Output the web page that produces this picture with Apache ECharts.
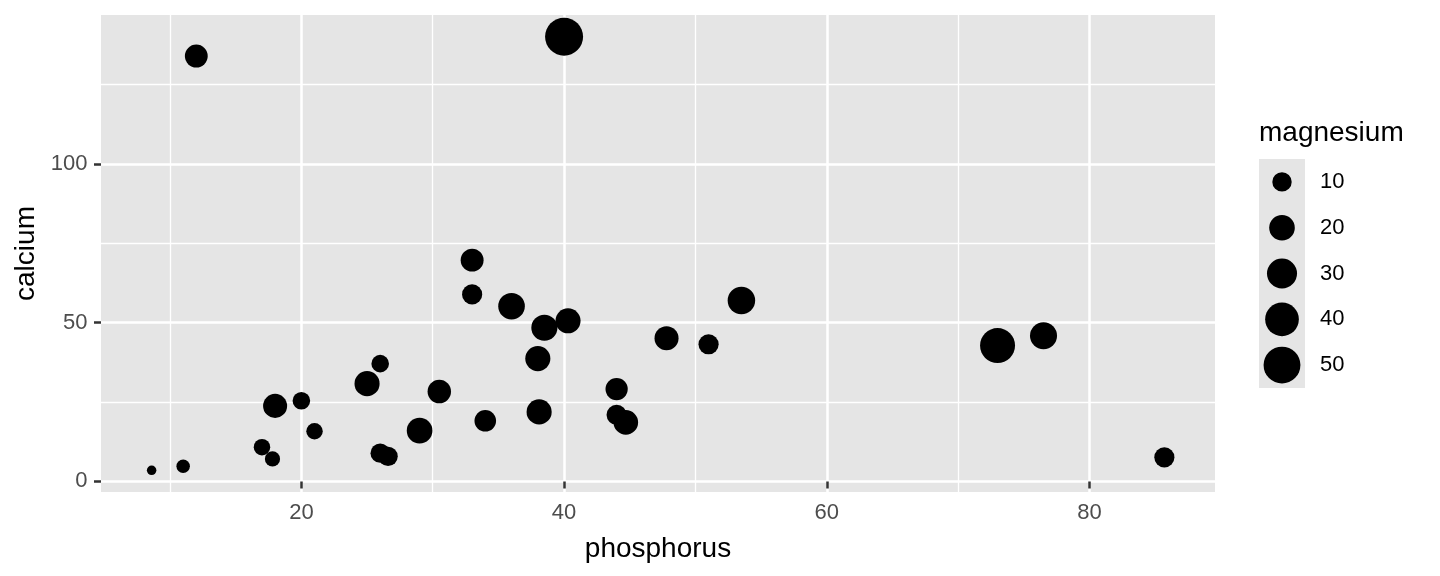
<!DOCTYPE html>
<html>
<head>
<meta charset="utf-8">
<script src="https://cdn.jsdelivr.net/npm/echarts@6/dist/echarts.min.js"></script>
<style>
  html, body { margin: 0; padding: 0; background: #ffffff; }
  #chart { width: 1440px; height: 576px; }
</style>
</head>
<body>
<div id="chart"></div>
<script>
// ---- data ----
const phosphorus = [8.6, 11, 12, 17, 17.8, 18, 20, 21, 25, 26, 26, 26.6, 29, 30.5, 33, 33, 34, 36, 38.5, 38, 38.1, 40, 40.3, 44, 44, 44.7, 47.8, 51, 53.5, 73, 76.5, 85.7];
const calcium    = [3.5, 4.8, 134, 10.8, 7.1, 23.8, 25.4, 15.8, 30.8, 37.1, 8.9, 7.9, 16, 28.3, 69.7, 58.9, 19.1, 55.2, 48.4, 38.7, 21.9, 140.1, 50.6, 29.1, 21, 18.6, 45.1, 43.2, 57, 42.8, 45.9, 7.6];
const magnesium  = [4, 5, 15, 7, 6, 17, 8, 7, 19, 8, 10, 10, 20, 16, 15, 11, 13, 22, 21, 19, 19, 54, 19, 14, 11, 18, 17, 11, 24, 44, 23, 11];

const xMajorTicks = [20, 40, 60, 80];
const xMinorTicks = [10, 30, 50, 70];
const yMajorTicks = [0, 50, 100];
const yMinorTicks = [25, 75, 125];
const legendValues = [10, 20, 30, 40, 50];

// ---- size scale (area-like, as in ggplot scale_size) ----
const magMin = 4, magMax = 54;
function sizeOf(v) {
  const t = Math.max(0, Math.min(1, (v - magMin) / (magMax - magMin)));
  return 9.5 + 28.5 * Math.sqrt(t);
}

// axis limits with 5% expansion as in the reference
function expand(arr) {
  const lo = Math.min.apply(null, arr), hi = Math.max.apply(null, arr);
  const r = hi - lo;
  return [lo - 0.05 * r, hi + 0.05 * r];
}
const xLim = expand(phosphorus);
const yLim = expand(calcium);

const points = phosphorus.map((p, i) => [p, calcium[i], magnesium[i]]);
const legendPoints = legendValues.map(v => [0, String(v), v]);

const FONT = '"Liberation Sans", Arial, Helvetica, sans-serif';
const PANEL = '#E5E5E5';

const chart = echarts.init(document.getElementById('chart'), null, { renderer: 'canvas' });

const hidden = { show: false };

chart.setOption({
  animation: false,
  backgroundColor: '#ffffff',
  textStyle: { fontFamily: FONT },
  title: {
    text: 'magnesium',
    left: 1259,
    top: 119,
    padding: 0,
    textStyle: { fontFamily: FONT, fontSize: 28, fontWeight: 'normal', color: '#000000' }
  },
  grid: [
    { left: 101, right: 225, top: 15, bottom: 84, show: true, backgroundColor: PANEL, borderWidth: 0 },
    { left: 1259, top: 159, width: 46, height: 229, show: true, backgroundColor: PANEL, borderWidth: 0 }
  ],
  xAxis: [
    {
      gridIndex: 0, type: 'value', min: xLim[0], max: xLim[1],
      name: 'phosphorus', nameLocation: 'middle', nameGap: 43,
      nameTextStyle: { fontFamily: FONT, fontSize: 28, color: '#000000' },
      axisLine: hidden,
      axisTick: { show: true, length: 7, customValues: xMajorTicks, lineStyle: { color: '#333333', width: 2.5 } },
      axisLabel: { show: true, customValues: xMajorTicks, margin: 10, fontFamily: FONT, fontSize: 22, color: '#4D4D4D' },
      splitLine: { show: true, lineStyle: { color: '#ffffff', width: 2.5 } }
    },
    {
      gridIndex: 0, type: 'value', min: xLim[0], max: xLim[1], position: 'bottom',
      axisLine: hidden,
      axisTick: { show: false, customValues: xMinorTicks },
      axisLabel: { show: false, customValues: xMinorTicks },
      splitLine: { show: true, lineStyle: { color: '#ffffff', width: 1.3 } }
    },
    {
      gridIndex: 1, type: 'value', min: -1, max: 1, show: false
    }
  ],
  yAxis: [
    {
      gridIndex: 0, type: 'value', min: yLim[0], max: yLim[1],
      name: 'calcium', nameLocation: 'middle', nameGap: 61, nameRotate: 90,
      nameTextStyle: { fontFamily: FONT, fontSize: 28, color: '#000000' },
      axisLine: hidden,
      axisTick: { show: true, length: 7, customValues: yMajorTicks, lineStyle: { color: '#333333', width: 2.5 } },
      axisLabel: { show: true, customValues: yMajorTicks, margin: 13.5, fontFamily: FONT, fontSize: 22, color: '#4D4D4D' },
      splitLine: { show: true, lineStyle: { color: '#ffffff', width: 2.5 } }
    },
    {
      gridIndex: 0, type: 'value', min: yLim[0], max: yLim[1], position: 'left',
      axisLine: hidden,
      axisTick: { show: false, customValues: yMinorTicks },
      axisLabel: { show: false, customValues: yMinorTicks },
      splitLine: { show: true, lineStyle: { color: '#ffffff', width: 1.3 } }
    },
    {
      gridIndex: 1, type: 'category', data: legendValues.map(String), inverse: true, position: 'right',
      axisLine: hidden, axisTick: hidden, splitLine: hidden,
      axisLabel: { show: true, margin: 15, fontFamily: FONT, fontSize: 22, color: '#000000', align: 'left' }
    }
  ],
  series: [
    {
      type: 'scatter', xAxisIndex: 0, yAxisIndex: 0,
      data: points,
      symbol: 'circle',
      symbolSize: (val) => sizeOf(val[2]),
      itemStyle: { color: '#000000', opacity: 1 },
      silent: true, z: 3
    },
    {
      type: 'scatter', xAxisIndex: 2, yAxisIndex: 2,
      data: legendPoints,
      symbol: 'circle',
      symbolSize: (val) => sizeOf(val[2]),
      itemStyle: { color: '#000000', opacity: 1 },
      silent: true, z: 3
    }
  ]
});
</script>
</body>
</html>
